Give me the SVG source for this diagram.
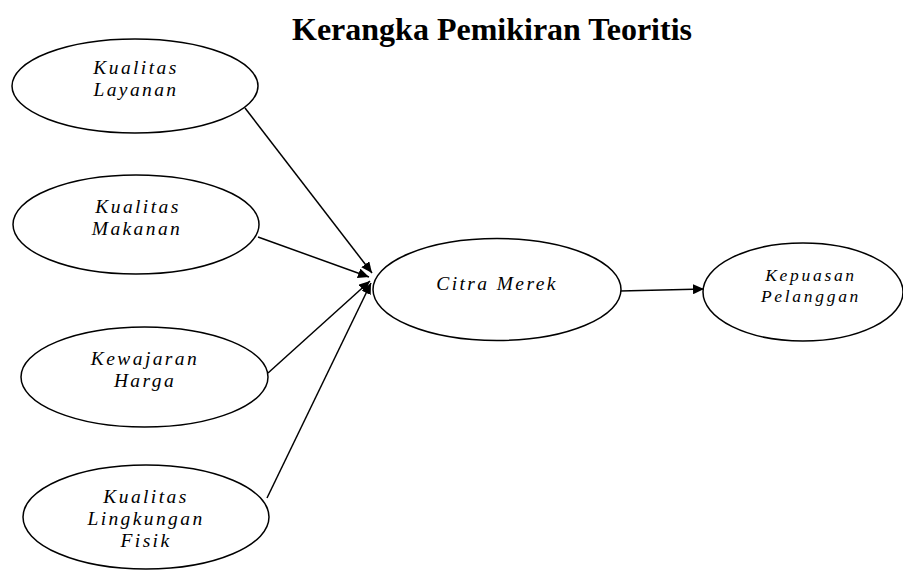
<svg xmlns="http://www.w3.org/2000/svg" width="903" height="570" viewBox="0 0 903 570">
<style>
.node ellipse{fill:#fff;stroke:#000;stroke-width:1.5}
.lbl{font-family:"Liberation Serif","Times New Roman",serif;font-style:italic;font-size:19.5px;letter-spacing:2.4px;text-anchor:middle;fill:#000}
.sm{font-size:17.5px;letter-spacing:2.7px}
.title{font-family:"Liberation Serif","Times New Roman",serif;font-weight:bold;font-size:32px;text-anchor:middle;fill:#000}
.edge{stroke:#000;stroke-width:1.5;fill:none;marker-end:url(#ah)}
</style>
<defs>
<marker id="ah" markerUnits="userSpaceOnUse" markerWidth="12" markerHeight="10" refX="11" refY="5" orient="auto">
<path d="M0,0 L11,5 L0,10 Z" fill="#000"/>
</marker>
</defs>
<rect width="903" height="570" fill="#fff"/>
<text class="title" x="492" y="40">Kerangka Pemikiran Teoritis</text>
<g id="connectors">
<line class="edge" x1="245" y1="108" x2="372" y2="273"/>
<line class="edge" x1="258" y1="237" x2="369" y2="277"/>
<line class="edge" x1="268" y1="373" x2="370" y2="281"/>
<line class="edge" x1="267" y1="498" x2="371" y2="283"/>
<line class="edge" x1="620" y1="291" x2="704" y2="289"/>
</g>
<g id="kualitas-layanan" class="node">
<ellipse cx="135" cy="86" rx="123" ry="47"/>
<text class="lbl"><tspan x="136" y="74">Kualitas</tspan><tspan x="136" y="96">Layanan</tspan></text>
</g>
<g id="kualitas-makanan" class="node">
<ellipse cx="136" cy="224.5" rx="123" ry="49.5"/>
<text class="lbl"><tspan x="138" y="213">Kualitas</tspan><tspan x="137" y="235">Makanan</tspan></text>
</g>
<g id="kewajaran-harga" class="node">
<ellipse cx="144.5" cy="377" rx="123.5" ry="50"/>
<text class="lbl"><tspan x="145" y="365">Kewajaran</tspan><tspan x="145" y="387">Harga</tspan></text>
</g>
<g id="kualitas-lingkungan-fisik" class="node">
<ellipse cx="146" cy="517" rx="123" ry="52"/>
<text class="lbl"><tspan x="146" y="503">Kualitas</tspan><tspan x="146" y="525">Lingkungan</tspan><tspan x="146" y="547">Fisik</tspan></text>
</g>
<g id="citra-merek" class="node">
<ellipse cx="497" cy="289.5" rx="124" ry="51"/>
<text class="lbl" x="497" y="290">Citra Merek</text>
</g>
<g id="kepuasan-pelanggan" class="node">
<ellipse cx="803" cy="292" rx="100" ry="49"/>
<text class="lbl sm"><tspan x="811" y="281">Kepuasan</tspan><tspan x="811" y="302">Pelanggan</tspan></text>
</g>
</svg>
